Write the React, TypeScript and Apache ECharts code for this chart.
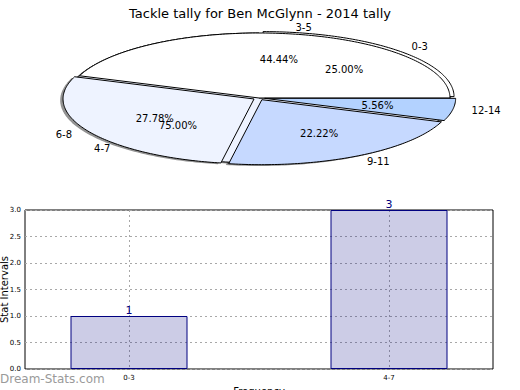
import React, { useEffect, useRef } from "react";
import * as echarts from "echarts";

const TITLE = "Tackle tally for Ben McGlynn - 2014 tally";
const WATERMARK = "Dream-Stats.com";

// Pie A (drawn on top): stat ranges
const rangeLabels = ["3-5", "6-8", "9-11", "12-14"];
const rangeValues = [8, 5, 4, 1];
const rangeColors = ["#ffffff", "#eef3ff", "#c6d9ff", "#b3d2ff"];
const rangeExplode = [0, 0.03, 0.03, 0.03];

// Pie B (drawn underneath): frequency groups
const freqLabels = ["0-3", "4-7"];
const freqValues = [1, 3];
const freqColors = ["#ffffff", "#eef3ff"];
const freqExplode = [0.03, 0];

// Bar chart
const barCategories = ["0-3", "4-7"];
const barValues = [1, 3];
const barPositions = [0, 1];

const FONT = "DejaVu Sans";
const PIE = { cx: 259, cy: 98, rx: 191, ry: 65 };

type Kind = "shadow" | "wedge" | "text";

function pieSeries(
  labels: string[],
  values: number[],
  colors: string[],
  explode: number[],
  kind: Kind,
  z: number
) {
  const total = values.reduce((a, b) => a + b, 0);
  const starts: number[] = [];
  let acc = 0;
  values.forEach((v) => {
    starts.push(acc);
    acc += v;
  });
  return {
    type: "custom",
    coordinateSystem: "none",
    z,
    silent: true,
    data: values.map((v, i) => ({ value: v, name: labels[i] })),
    renderItem: (params: any, api: any) => {
      const i = params.dataIndex;
      const v = api.value(0);
      const a1 = (starts[i] / total) * Math.PI * 2;
      const a2 = a1 + (v / total) * Math.PI * 2;
      const mid = (a1 + a2) / 2;
      const { cx, cy, rx, ry } = PIE;
      const ox = cx + explode[i] * rx * Math.cos(mid);
      const oy = cy - explode[i] * ry * Math.sin(mid);
      if (kind === "text") {
        const c = Math.cos(mid);
        const s = Math.sin(mid);
        const pct = ((v / total) * 100).toFixed(2) + "%";
        return {
          type: "group",
          children: [
            {
              type: "text",
              x: ox + 1.1 * rx * c,
              y: oy - 1.1 * ry * s,
              style: {
                text: labels[i],
                align: c > 0 ? "left" : "right",
                verticalAlign: "middle",
                fontSize: 10,
                fontFamily: FONT,
                fill: "#000",
              },
            },
            {
              type: "text",
              x: ox + 0.6 * rx * c,
              y: oy - 0.6 * ry * s,
              style: {
                text: pct,
                align: "center",
                verticalAlign: "middle",
                fontSize: 10,
                fontFamily: FONT,
                fill: "#000",
              },
            },
          ],
        };
      }
      const n = Math.max(2, Math.ceil(((a2 - a1) * 180) / Math.PI));
      const pts: number[][] = [[ox, oy]];
      for (let k = 0; k <= n; k++) {
        const a = a1 + ((a2 - a1) * k) / n;
        pts.push([ox + rx * Math.cos(a), oy - ry * Math.sin(a)]);
      }
      if (kind === "shadow") {
        return {
          type: "polygon",
          shape: { points: pts.map((p) => [p[0] - 0.015 * rx, p[1] + 0.02 * ry]) },
          style: { fill: "rgba(40,40,40,0.5)" },
        };
      }
      return {
        type: "polygon",
        shape: { points: pts },
        style: { fill: colors[i], stroke: "#000", lineWidth: 1, lineJoin: "miter" },
      };
    },
  };
}

export default function App() {
  const ref = useRef<HTMLDivElement>(null);
  useEffect(() => {
    if (!ref.current) return;
    const chart = echarts.init(ref.current, undefined, { renderer: "svg" });
    const dotted = { show: true, lineStyle: { color: "#a8a8a8", type: [2, 3] as any, width: 1 } };
    chart.setOption({
      animation: false,
      backgroundColor: "#ffffff",
      textStyle: { fontFamily: FONT },
      title: {
        text: TITLE,
        left: "center",
        top: 2,
        textStyle: { fontSize: 13, fontWeight: "normal", color: "#000", fontFamily: FONT },
      },
      graphic: [
        {
          type: "text",
          left: 0,
          top: 373,
          style: {
            text: WATERMARK,
            fontSize: 12,
            fontFamily: FONT,
            fill: "#9a9a9a",
          },
          z: 100,
        },
      ],
      grid: {
        left: 25,
        right: 27,
        top: 210,
        bottom: 21,
        show: true,
        borderColor: "#000",
        borderWidth: 1,
        backgroundColor: "transparent",
        containLabel: false,
        outerBoundsMode: "none",
      },
      xAxis: {
        type: "value",
        min: -0.4,
        max: 1.4,
        axisLine: { show: false },
        axisTick: { show: false, customValues: barPositions },
        axisLabel: {
          customValues: barPositions,
          formatter: (v: number) => barCategories[Math.round(v)] ?? "",
          fontSize: 7,
          color: "#000",
          margin: 5,
        },
        splitLine: dotted,
        name: "Frequency",
        nameLocation: "middle",
        nameGap: 17,
        nameMoveOverlap: false,
        nameTextStyle: { fontSize: 10, color: "#000" },
      },
      yAxis: {
        type: "value",
        min: 0,
        max: 3,
        interval: 0.5,
        axisLine: { show: false },
        axisTick: { show: false },
        axisLabel: {
          formatter: (v: number) => v.toFixed(1),
          fontSize: 7,
          color: "#000",
          margin: 4,
        },
        splitLine: dotted,
        name: "Stat Intervals",
        nameLocation: "middle",
        nameGap: 16,
        nameMoveOverlap: false,
        nameTextStyle: { fontSize: 10, color: "#000" },
      },
      series: [
        pieSeries(freqLabels, freqValues, freqColors, freqExplode, "shadow", 1),
        pieSeries(rangeLabels, rangeValues, rangeColors, rangeExplode, "shadow", 1),
        pieSeries(freqLabels, freqValues, freqColors, freqExplode, "wedge", 2),
        pieSeries(rangeLabels, rangeValues, rangeColors, rangeExplode, "wedge", 3),
        pieSeries(freqLabels, freqValues, freqColors, freqExplode, "text", 4),
        pieSeries(rangeLabels, rangeValues, rangeColors, rangeExplode, "text", 4),
        {
          type: "bar",
          z: 2,
          barWidth: 117,
          data: barValues.map((v, i) => [barPositions[i], v]),
          itemStyle: { color: "rgba(0,0,128,0.2)", borderColor: "#000080", borderWidth: 1 },
          label: {
            show: true,
            position: "top",
            distance: 0,
            color: "#000080",
            fontSize: 11,
            fontFamily: FONT,
            formatter: (p: any) => String(p.value[1]),
          },
        },
      ],
    });
    return () => chart.dispose();
  }, []);
  return (
    <div
      ref={ref}
      style={{ position: "fixed", left: 0, top: 0, width: 520, height: 390, background: "#fff" }}
    />
  );
}
